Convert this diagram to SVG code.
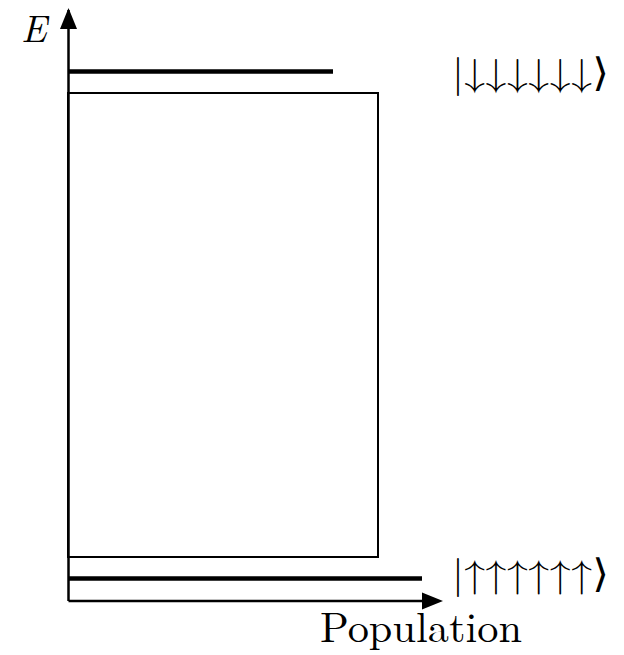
<svg xmlns="http://www.w3.org/2000/svg" width="624" height="655" viewBox="0 0 624 655">
<style>
.t{font-family:"Latin Modern Roman","DejaVu Serif","Liberation Serif",serif;fill:#000}
.ax{stroke:#000;stroke-width:2.5;fill:none}
.lvl{stroke:#000;stroke-width:4.5;fill:none}
</style>
<g id="connectors">
<line class="ax" x1="68.5" y1="601" x2="68.5" y2="10"/>
<path d="M60,29 L68.5,8 L77,29 z" fill="#000"/>
<line class="ax" x1="68.5" y1="601" x2="424" y2="601"/>
<path d="M422,592.5 L443,601 L422,609.5 z" fill="#000"/>
</g>
<g id="box">
<rect x="68" y="93" width="310" height="464" fill="none" stroke="#000" stroke-width="2"/>
</g>
<g id="level-top">
<line class="lvl" x1="68" y1="71.5" x2="333" y2="71.5"/>
</g>
<g id="level-bottom">
<line class="lvl" x1="68" y1="578.5" x2="422" y2="578.5"/>
</g>
<g id="labels">
<text class="t" x="21" y="42" font-size="38" font-style="italic">E</text>
<text class="t" x="452" y="86" font-size="39" textLength="157" lengthAdjust="spacingAndGlyphs">|↓↓↓↓↓↓⟩</text>
<text class="t" x="452" y="587" font-size="39" textLength="157" lengthAdjust="spacingAndGlyphs">|↑↑↑↑↑↑⟩</text>
<text class="t" x="320" y="642" font-size="42" textLength="202" lengthAdjust="spacingAndGlyphs">Population</text>
</g>
</svg>
